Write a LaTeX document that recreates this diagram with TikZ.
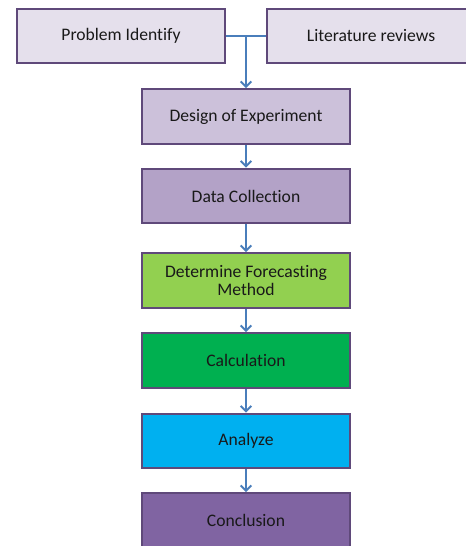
\documentclass[tikz,border=0pt]{standalone}
\usepackage{fontspec}
\setmainfont{Carlito}[Ligatures=NoCommon]
\usepackage{xcolor}
\usetikzlibrary{arrows.meta}

% Couleurs
\definecolor{bord}{HTML}{5F497A}
\definecolor{bleufleche}{HTML}{4A7EBB}
\definecolor{lavande}{HTML}{E5E0EC}
\definecolor{mauveclair}{HTML}{CCC1DA}
\definecolor{mauve}{HTML}{B3A2C7}
\definecolor{vertclair}{HTML}{92D050}
\definecolor{vert}{HTML}{00B050}
\definecolor{bleu}{HTML}{00B0F0}
\definecolor{violet}{HTML}{8064A2}

\tikzset{
  boite/.style={draw=bord, line width=1.5pt, minimum width=156pt, minimum height=41pt,
    align=center, inner sep=2pt, text=black!90, font=\fontsize{13.2}{13.5}\selectfont},
  ligne/.style={draw=bleufleche, line width=1.5pt},
  fleche/.style={ligne, -{Straight Barb[length=4pt,width=8pt]}}
}

\begin{document}
\begin{tikzpicture}[x=0.75pt,y=-0.75pt]
\useasboundingbox (0,0) rectangle (466,546);
\clip (0,0) rectangle (466,546);

% Boîtes du haut
\node[boite, fill=lavande] (probleme) at (121,36) {Problem Identify};
\node[boite, fill=lavande] (litterature) at (371,36) {Literature reviews};

% Étapes
\node[boite, fill=mauveclair] (design) at (246,116.5) {Design of Experiment};
\node[boite, fill=mauve] (donnees) at (246,196) {Data Collection};
\node[boite, fill=vertclair] (methode) at (246,280.5) {Determine Forecasting\\Method};
\node[boite, fill=vert] (calcul) at (246,360.5) {Calculation};
\node[boite, fill=bleu] (analyse) at (246,441) {Analyze};
\node[boite, fill=violet] (conclusion) at (246,520.5) {Conclusion};

% Liaison du haut
\coordinate (jonction) at (design.north |- probleme.east);
\draw[ligne] (probleme.east) -- (litterature.west);
\draw[fleche] (jonction) -- (design.north);

% Flèches entre étapes
\draw[fleche] (design.south) -- (donnees.north);
\draw[fleche] (donnees.south) -- (methode.north);
\draw[fleche] (methode.south) -- (calcul.north);
\draw[fleche] (calcul.south) -- (analyse.north);
\draw[fleche] (analyse.south) -- (conclusion.north);

\end{tikzpicture}
\end{document}
